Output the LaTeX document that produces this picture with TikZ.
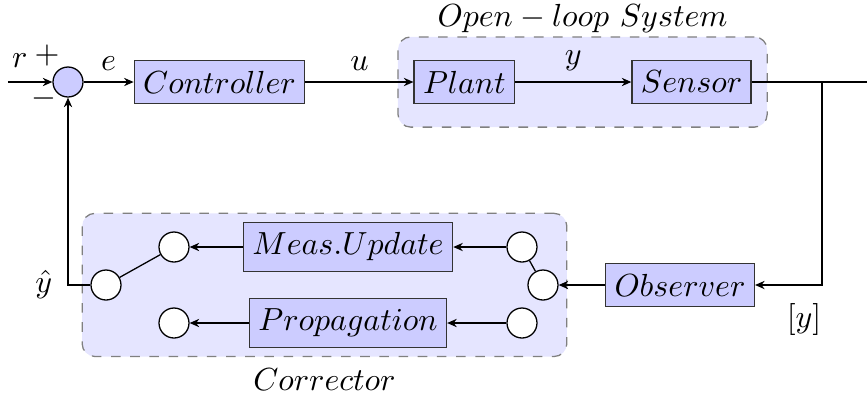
\documentclass[tikz,border=0pt]{standalone}
\usepackage{amsmath, amssymb}
\usetikzlibrary{arrows.meta, positioning, calc, fit, backgrounds}
\tikzset{
    block/.style={rectangle, draw=black!80, fill=blue!20, align=center, inner xsep=2.8pt},
    sumnode/.style={circle, draw, fill=blue!20, minimum size=0.33cm, inner sep=0pt},
    switchpt/.style={circle, draw, fill=white, minimum size=0.33cm, inner sep=0pt},
    group/.style={draw=gray, dashed, rounded corners=4pt, fill=blue!10},
    arrow/.style={->, >={Stealth[length=3pt, width=2.6pt]}}
}

\begin{document}
\begin{tikzpicture}[node distance=1.2cm, auto]
    \useasboundingbox (-0.748,0.902) rectangle (8.789,-3.454);

    % forward path
    \node[sumnode] (sum) at (0,0) {};
    \coordinate (rin) at (-0.66,0);
    \node[block, right=0.55cm of sum] (ctrl) {$Controller$};
    \node[block, right=1.188cm of ctrl] (plant) {$Plant$};
    \node[block, right=1.276cm of plant] (sensor) {$Sensor$};
    \coordinate (brc) at (8.294,0);
    \coordinate (yout) at (8.789,0);
    \node[block] (obs) at (6.732,-2.233) {$Observer$};

    % corrector
    \node[switchpt] (cmid) at (5.225,-2.233) {};
    \node[switchpt] (ctop) at (4.994,-1.815) {};
    \node[switchpt] (cbot) at (4.994,-2.651) {};
    \node[block] (meas) at (3.08,-1.815) {$Meas.Update$};
    \node[block] (prop) at (3.08,-2.651) {$Propagation$};
    \node[switchpt] (ltop) at (1.166,-1.815) {};
    \node[switchpt] (lbot) at (1.166,-2.651) {};
    \node[switchpt] (sw) at (0.418,-2.233) {};

    \begin{scope}[on background layer]
        \node[group, fit=(plant)(sensor), inner xsep=0.17cm, inner ysep=0.25cm] (olsys) {};
        \node[group, fit=(sw)(ctop)(cmid)(cbot)(meas)(prop)(ltop)(lbot), inner sep=0.09cm] (corr) {};
    \end{scope}
    \node[above=-0.22pt of olsys, inner sep=1pt] (oltxt) {$Open-loop~System$};
    \node[below=0pt of corr] (corrtxt) {$Corrector$};

    % signs and labels
    \node (rlbl) at (-0.53,0.23) {$r$};
    \node (plus) at ($(sum)+(-0.231,0.286)$) {$+$};
    \node (minus) at ($(sum)+(-0.264,-0.187)$) {$-$};
    \coordinate (fbk) at (sum |- sw);
    \node[left=0.05cm of fbk] (yhat) {$\hat{y}$};
    \coordinate (ycorner) at (brc |- obs);
    \node[below left=0.2cm and 0cm of ycorner, inner sep=0pt] (ymeas) {$[y]$};

    \draw[arrow] (rin) -- (sum);
    \draw[arrow] (sum) -- node[above] (elbl) {$e$} (ctrl);
    \draw[arrow] (ctrl) -- node[above] (ulbl) {$u$} (plant);
    \draw[arrow] (plant) -- node[above] (ylbl) {$y$} (sensor);
    \draw (sensor) -- (yout);
    \draw[arrow] (brc) |- (obs);
    \draw[arrow] (obs) -- (cmid);
    \draw (cmid) -- (ctop);
    \draw[arrow] (ctop) -- (meas);
    \draw[arrow] (cbot) -- (prop);
    \draw[arrow] (meas) -- (ltop);
    \draw[arrow] (prop) -- (lbot);
    \draw (sw) -- (ltop);
    \draw[arrow] (sw) -| (sum);
\end{tikzpicture}
\end{document}
